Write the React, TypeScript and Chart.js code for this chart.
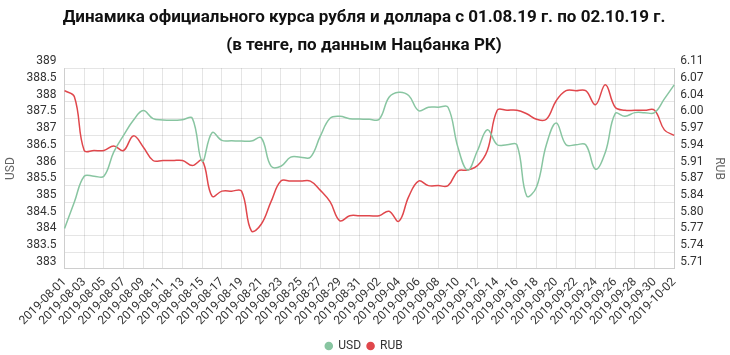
import React, { useEffect, useRef } from "react";
import { Chart, registerables } from "chart.js";

Chart.register(...registerables);

const titleLines = [
  "Динамика официального курса рубля и доллара с 01.08.19 г. по 02.10.19 г.",
  "(в тенге, по данным Нацбанка РК)",
];

const dates = [
  "2019-08-01","2019-08-02","2019-08-03","2019-08-04","2019-08-05","2019-08-06","2019-08-07","2019-08-08",
  "2019-08-09","2019-08-10","2019-08-11","2019-08-12","2019-08-13","2019-08-14","2019-08-15","2019-08-16",
  "2019-08-17","2019-08-18","2019-08-19","2019-08-20","2019-08-21","2019-08-22","2019-08-23","2019-08-24",
  "2019-08-25","2019-08-26","2019-08-27","2019-08-28","2019-08-29","2019-08-30","2019-08-31","2019-09-01",
  "2019-09-02","2019-09-03","2019-09-04","2019-09-05","2019-09-06","2019-09-07","2019-09-08","2019-09-09",
  "2019-09-10","2019-09-11","2019-09-12","2019-09-13","2019-09-14","2019-09-15","2019-09-16","2019-09-17",
  "2019-09-18","2019-09-19","2019-09-20","2019-09-21","2019-09-22","2019-09-23","2019-09-24","2019-09-25",
  "2019-09-26","2019-09-27","2019-09-28","2019-09-29","2019-09-30","2019-10-01","2019-10-02",
];

const usd = [
  384.21, 385.0, 385.77, 385.77, 385.77, 386.49, 386.99, 387.44,
  387.73, 387.49, 387.45, 387.44, 387.46, 387.5, 386.22, 387.07,
  386.84, 386.83, 386.82, 386.82, 386.92, 386.07, 386.07, 386.34,
  386.34, 386.34, 386.96, 387.5, 387.56, 387.49, 387.48, 387.47,
  387.47, 388.13, 388.28, 388.18, 387.73, 387.83, 387.83, 387.83,
  386.64, 385.95, 386.54, 387.16, 386.71, 386.71, 386.71, 385.18,
  385.45, 386.71, 387.36, 386.71, 386.71, 386.71, 385.98, 386.49,
  387.64, 387.56, 387.67, 387.67, 387.67, 388.08, 388.5,
];

const rub = [
  6.06, 6.048, 5.941, 5.941, 5.941, 5.95, 5.941, 5.97,
  5.948, 5.921, 5.921, 5.921, 5.921, 5.911, 5.921, 5.85,
  5.86, 5.86, 5.86, 5.781, 5.794, 5.839, 5.88, 5.88,
  5.88, 5.88, 5.862, 5.839, 5.801, 5.811, 5.811, 5.811,
  5.811, 5.82, 5.8, 5.849, 5.88, 5.871, 5.871, 5.871,
  5.9, 5.902, 5.911, 5.941, 6.021, 6.021, 6.021, 6.014,
  6.003, 6.003, 6.04, 6.06, 6.06, 6.06, 6.032, 6.072,
  6.027, 6.021, 6.021, 6.021, 6.021, 5.982, 5.971,
];

const usdTickLabels = [
  "383","383.5","384","384.5","385","385.5","386","386.5","387","387.5","388","388.5","389",
];

const rubTickLabels = [
  "5.71","5.74","5.77","5.80","5.84","5.87","5.91","5.94","5.97","6.00","6.04","6.07","6.11",
];

const USD_COLOR = "#88c5a1";
const RUB_COLOR = "#e0474c";
const FONT = "Roboto";

export default function App() {
  const ref = useRef<HTMLCanvasElement>(null);
  useEffect(() => {
    if (!ref.current) return;
    const chart = new Chart(ref.current, {
      type: "line",
      data: {
        labels: dates,
        datasets: [
          {
            label: "USD",
            data: usd,
            borderColor: USD_COLOR,
            backgroundColor: USD_COLOR,
            borderWidth: 1.5,
            pointRadius: 0,
            tension: 0.4,
            yAxisID: "y",
          },
          {
            label: "RUB",
            data: rub,
            borderColor: RUB_COLOR,
            backgroundColor: RUB_COLOR,
            borderWidth: 1.5,
            pointRadius: 0,
            tension: 0.4,
            yAxisID: "y1",
          },
        ],
      },
      options: {
        responsive: false,
        animation: false,
        layout: { padding: { left: 0, right: 2, top: 0, bottom: 0 } },
        plugins: {
          title: {
            display: true,
            text: titleLines,
            color: "#111",
            font: { family: FONT, size: 17, weight: "bold", lineHeight: 1.65 },
            padding: { top: 4, bottom: 8 },
          },
          legend: {
            position: "bottom",
            labels: {
              usePointStyle: true,
              pointStyle: "circle",
              boxWidth: 7,
              boxHeight: 5,
              padding: 6,
              color: "#333",
              font: { family: FONT, size: 12 },
            },
          },
          tooltip: { enabled: false },
        },
        scales: {
          x: {
            grid: {
              color: (ctx: any) => (ctx.index % 2 === 0 ? "rgba(0,0,0,0.1)" : "rgba(0,0,0,0)"),
              drawTicks: false,
            },
            border: { color: "rgba(0,0,0,0.1)" },
            ticks: {
              autoSkip: false,
              maxRotation: 45,
              minRotation: 45,
              padding: 6,
              color: "#333",
              font: { family: FONT, size: 12 },
              callback: (_v: any, i: number) => (i % 2 === 0 ? dates[i] : ""),
            },
          },
          y: {
            position: "left",
            min: 383,
            max: 389,
            grid: { color: "rgba(0,0,0,0.1)", drawTicks: false },
            border: { color: "rgba(0,0,0,0.1)" },
            ticks: {
              count: 13,
              autoSkip: false,
              labelOffset: -7,
              padding: 8,
              color: "#333",
              font: { family: FONT, size: 12 },
              callback: (_v: any, i: number) => usdTickLabels[i],
            },
            title: { display: true, text: "USD", color: "#666", font: { family: FONT, size: 12 }, padding: { top: 4, bottom: 0 } },
          },
          y1: {
            position: "right",
            min: 5.705,
            max: 6.105,
            grid: { drawOnChartArea: false, drawTicks: false },
            border: { color: "rgba(0,0,0,0.1)" },
            ticks: {
              count: 13,
              autoSkip: false,
              labelOffset: -7,
              padding: 6,
              color: "#333",
              font: { family: FONT, size: 12 },
              callback: (_v: any, i: number) => rubTickLabels[i],
            },
            title: { display: true, text: "RUB", color: "#666", font: { family: FONT, size: 12 }, padding: 2 },
          },
        },
      },
    });
    return () => chart.destroy();
  }, []);
  return (
    <div style={{ position: "fixed", left: 0, top: 0, width: 730, height: 355, overflow: "hidden", background: "#fff" }}>
      <canvas ref={ref} width={730} height={362} style={{ display: "block" }} />
    </div>
  );
}
